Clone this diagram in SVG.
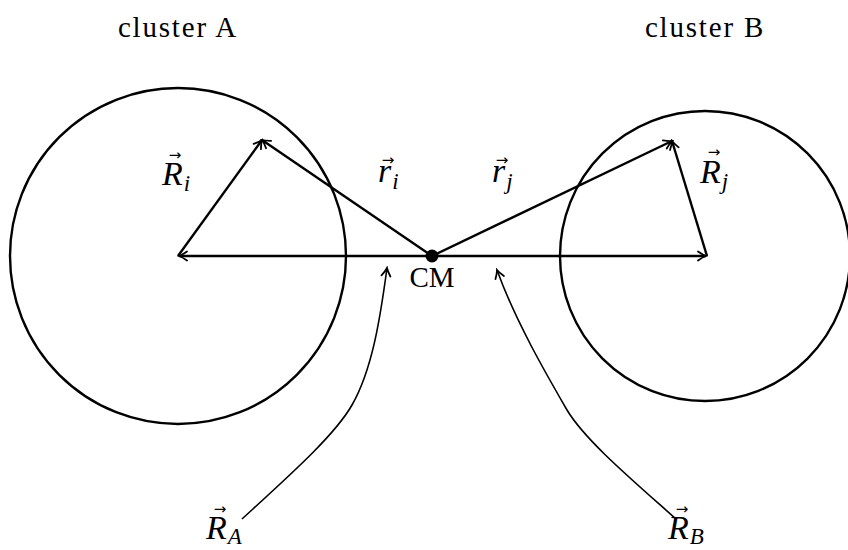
<svg xmlns="http://www.w3.org/2000/svg" width="848" height="550" viewBox="0 0 848 550">
<style>
.t{font-family:"Liberation Serif","Times New Roman",serif;fill:#000}
.lbl{font-size:29px;letter-spacing:1.8px}
.m{font-size:34px;font-style:italic}
.s{font-size:23px;font-style:italic}
.v{font-family:"DejaVu Sans",sans-serif;font-size:15px;fill:#000}
.ln{fill:none;stroke:#000;stroke-width:2.4}
.cv{fill:none;stroke:#000;stroke-width:1.6}
</style>
<defs>
<marker id="ah" viewBox="-10 -6 12 12" markerWidth="12" markerHeight="12" refX="0" refY="0" orient="auto-start-reverse" markerUnits="userSpaceOnUse">
<path d="M-8,-4.5 Q-3,-1 0,0 Q-3,1 -8,4.5" fill="none" stroke="#000" stroke-width="1.8" stroke-linecap="round"/>
</marker>
</defs>
<g id="clusterA">
<circle cx="178" cy="256" r="168" class="ln"/>
<text class="t lbl" x="178" y="37" text-anchor="middle">cluster A</text>
</g>
<g id="clusterB">
<circle cx="705" cy="256" r="145" class="ln"/>
<text class="t lbl" x="705" y="37" text-anchor="middle">cluster B</text>
</g>
<g id="CM">
<circle cx="432" cy="256" r="6.5" fill="#000"/>
<text class="t" font-size="29" x="432" y="287" text-anchor="middle">CM</text>
</g>
<g id="connectors">
<line x1="432" y1="256" x2="179" y2="256" class="ln" marker-end="url(#ah)"/>
<line x1="432" y1="256" x2="706" y2="256" class="ln" marker-end="url(#ah)"/>
<line x1="178" y1="256" x2="262" y2="140" class="ln" marker-end="url(#ah)"/>
<line x1="432" y1="256" x2="262" y2="140" class="ln" marker-end="url(#ah)"/>
<line x1="432" y1="256" x2="672" y2="141" class="ln" marker-end="url(#ah)"/>
<line x1="707" y1="256" x2="672" y2="141" class="ln" marker-end="url(#ah)"/>
<path d="M242,519 C290,475 335,435 352,405 C372,370 380,320 387,268" class="cv" marker-end="url(#ah)"/>
<path d="M676,519 C630,478 585,440 567,410 C545,372 515,320 497,270" class="cv" marker-end="url(#ah)"/>
</g>
<g id="label-Ri">
<text class="v" x="175" y="160" text-anchor="middle">→</text>
<text class="t m" x="162" y="185">R<tspan class="s" dx="1" dy="6">i</tspan></text>
</g>
<g id="label-ri">
<text class="v" x="388" y="165" text-anchor="middle">→</text>
<text class="t m" x="378" y="182">r<tspan class="s" dx="1" dy="7">i</tspan></text>
</g>
<g id="label-rj">
<text class="v" x="502" y="165" text-anchor="middle">→</text>
<text class="t m" x="492" y="182">r<tspan class="s" dx="1" dy="7">j</tspan></text>
</g>
<g id="label-Rj">
<text class="v" x="714" y="157" text-anchor="middle">→</text>
<text class="t m" x="700" y="183">R<tspan class="s" dx="1" dy="6">j</tspan></text>
</g>
<g id="label-RA">
<text class="v" x="220" y="514" text-anchor="middle">→</text>
<text class="t m" x="206" y="539">R<tspan class="s" dx="1" dy="5">A</tspan></text>
</g>
<g id="label-RB">
<text class="v" x="682" y="514" text-anchor="middle">→</text>
<text class="t m" x="668" y="539">R<tspan class="s" dx="1" dy="5">B</tspan></text>
</g>
</svg>
